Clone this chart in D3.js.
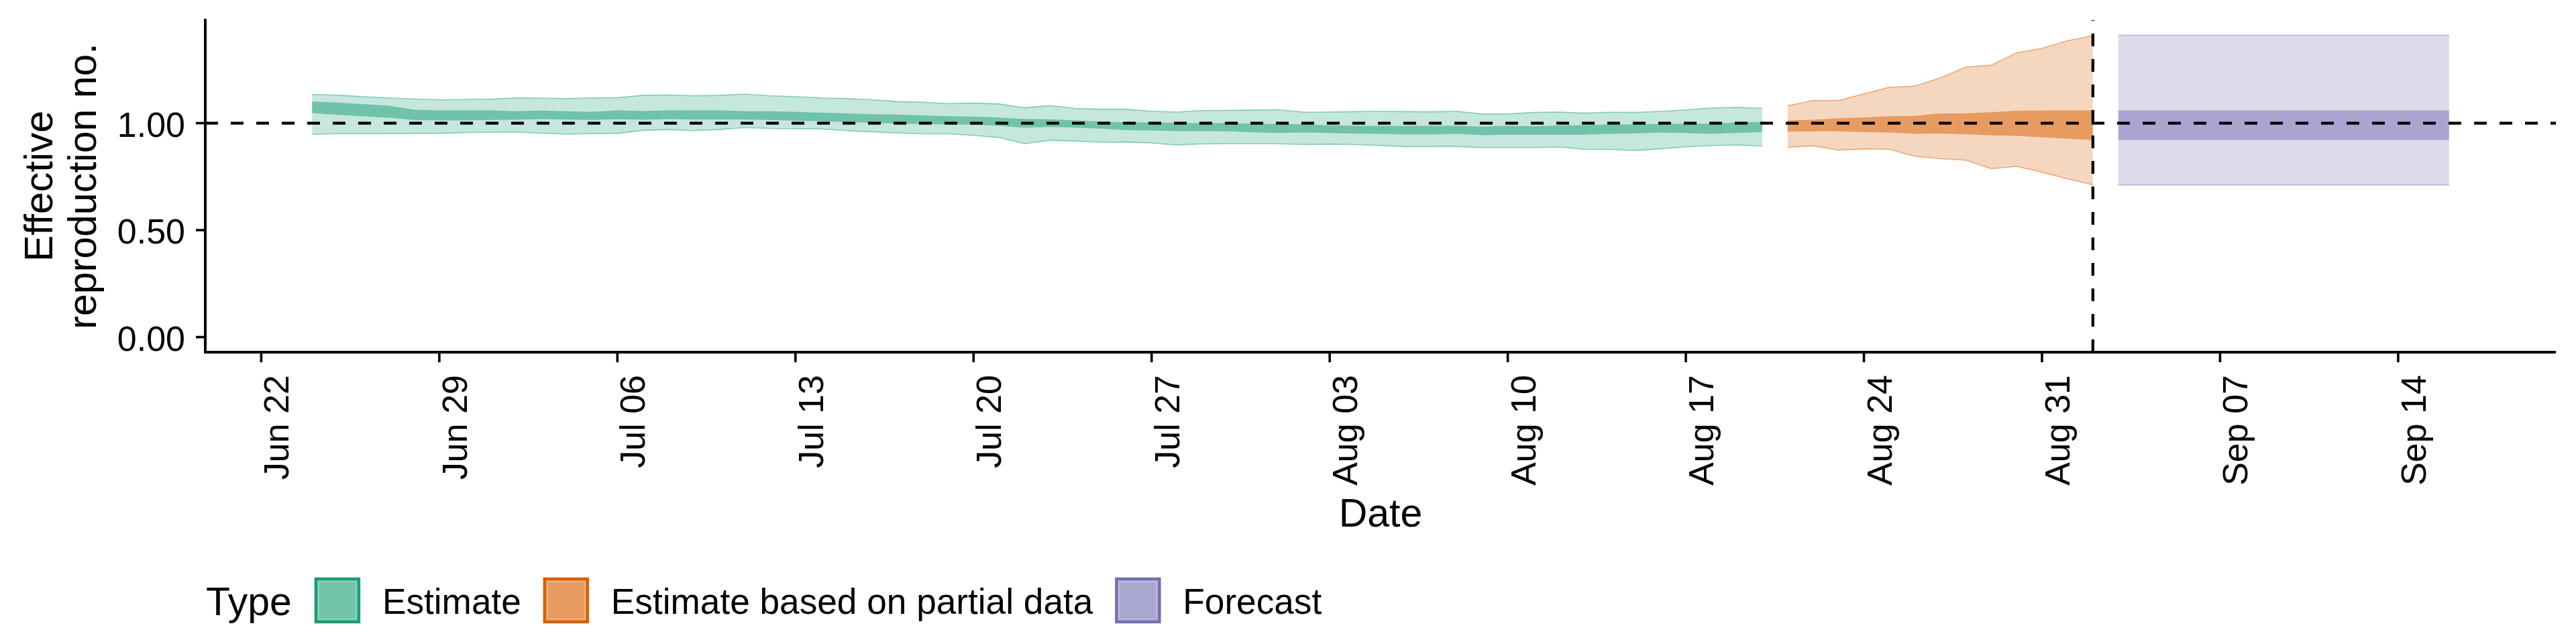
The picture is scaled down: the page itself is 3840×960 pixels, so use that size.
<!DOCTYPE html>
<html>
<head>
<meta charset="utf-8">
<script src="https://cdn.jsdelivr.net/npm/d3@7"></script>
<style>
  html, body { margin: 0; padding: 0; background: #fff; }
  svg { display: block; }
  text { font-family: "Liberation Sans", Arial, Helvetica, sans-serif; fill: #000; }
</style>
</head>
<body>
<svg id="chart" width="3840" height="960"></svg>
<script>
// ---- data ----
const types = ['Estimate', 'Estimate based on partial data', 'Forecast'];
const typeColours = ['#1b9e77', '#d95f02', '#7570b3'];
const startDates = ['2020-06-24', '2020-08-21', '2020-09-03'];

const estimateUpper90 = [
  1.134, 1.131, 1.124, 1.118, 1.113, 1.109, 1.111, 1.112, 1.118, 1.117,
  1.115, 1.118, 1.119, 1.130, 1.132, 1.128, 1.130, 1.136, 1.128, 1.124,
  1.118, 1.115, 1.110, 1.101, 1.098, 1.091, 1.094, 1.090, 1.072, 1.082,
  1.069, 1.065, 1.065, 1.056, 1.052, 1.059, 1.060, 1.061, 1.063, 1.051,
  1.052, 1.054, 1.055, 1.054, 1.053, 1.055, 1.043, 1.043, 1.050, 1.052,
  1.047, 1.051, 1.050, 1.055, 1.062, 1.071, 1.074, 1.070
];
const estimateUpper50 = [
  1.101, 1.096, 1.089, 1.082, 1.063, 1.060, 1.060, 1.060, 1.056, 1.059,
  1.056, 1.053, 1.060, 1.057, 1.060, 1.060, 1.060, 1.056, 1.056, 1.053,
  1.049, 1.046, 1.042, 1.040, 1.036, 1.032, 1.031, 1.026, 1.020, 1.018,
  1.013, 1.007, 1.004, 1.003, 1.001, 1.000, 1.000, 0.997, 0.996, 0.994,
  0.990, 0.988, 0.988, 0.987, 0.988, 0.988, 0.984, 0.988, 0.985, 0.989,
  0.991, 0.994, 0.994, 0.996, 0.997, 0.997, 1.003, 1.006
];
const estimateLower50 = [
  1.047, 1.039, 1.032, 1.025, 1.015, 1.013, 1.013, 1.015, 1.016, 1.019,
  1.017, 1.015, 1.018, 1.016, 1.019, 1.017, 1.017, 1.017, 1.015, 1.011,
  1.009, 1.005, 1.002, 0.998, 0.996, 0.994, 0.993, 0.988, 0.979, 0.982,
  0.979, 0.974, 0.967, 0.966, 0.963, 0.963, 0.962, 0.957, 0.954, 0.956,
  0.954, 0.951, 0.950, 0.947, 0.947, 0.950, 0.944, 0.946, 0.946, 0.946,
  0.946, 0.950, 0.952, 0.956, 0.954, 0.950, 0.954, 0.959
];
const estimateLower90 = [
  0.948, 0.951, 0.951, 0.951, 0.952, 0.952, 0.956, 0.957, 0.958, 0.953,
  0.949, 0.951, 0.952, 0.966, 0.970, 0.965, 0.970, 0.979, 0.975, 0.974,
  0.973, 0.965, 0.960, 0.954, 0.950, 0.950, 0.943, 0.933, 0.904, 0.920,
  0.916, 0.911, 0.912, 0.907, 0.898, 0.903, 0.904, 0.904, 0.904, 0.900,
  0.902, 0.900, 0.895, 0.890, 0.891, 0.891, 0.886, 0.886, 0.886, 0.888,
  0.878, 0.877, 0.872, 0.880, 0.889, 0.895, 0.898, 0.893
];

const partialUpper90 = [1.081, 1.106, 1.106, 1.137, 1.168, 1.173, 1.212, 1.262, 1.271, 1.329, 1.350, 1.385, 1.409];
const partialUpper50 = [1.013, 1.016, 1.023, 1.027, 1.032, 1.034, 1.046, 1.046, 1.051, 1.058, 1.059, 1.060, 1.060];
const partialLower50 = [0.960, 0.962, 0.962, 0.958, 0.956, 0.950, 0.952, 0.948, 0.943, 0.941, 0.934, 0.927, 0.922];
const partialLower90 = [0.887, 0.894, 0.874, 0.879, 0.878, 0.845, 0.834, 0.827, 0.787, 0.798, 0.771, 0.740, 0.712];

const forecastUpper90 = [1.411, 1.411, 1.411, 1.411, 1.411, 1.411, 1.411, 1.411, 1.411, 1.411, 1.411, 1.411, 1.411, 1.411];
const forecastUpper50 = [1.060, 1.060, 1.060, 1.060, 1.060, 1.060, 1.060, 1.060, 1.060, 1.060, 1.060, 1.060, 1.060, 1.060];
const forecastLower50 = [0.922, 0.922, 0.922, 0.922, 0.922, 0.922, 0.922, 0.922, 0.922, 0.922, 0.922, 0.922, 0.922, 0.922];
const forecastLower90 = [0.711, 0.711, 0.711, 0.711, 0.711, 0.711, 0.711, 0.711, 0.711, 0.711, 0.711, 0.711, 0.711, 0.711];

const tickDates = ['2020-06-22', '2020-06-29', '2020-07-06', '2020-07-13', '2020-07-20', '2020-07-27',
  '2020-08-03', '2020-08-10', '2020-08-17', '2020-08-24', '2020-08-31', '2020-09-07', '2020-09-14'];
const yTicks = [0, 0.5, 1];
const referenceR = 1;
const lastDataDate = '2020-09-02';

// ---- build rows per type ----
const bands = [
  [estimateLower90, estimateLower50, estimateUpper50, estimateUpper90],
  [partialLower90, partialLower50, partialUpper50, partialUpper90],
  [forecastLower90, forecastLower50, forecastUpper50, forecastUpper90]
];
const series = types.map((type, i) => {
  const start = new Date(startDates[i]);
  const [lo90, lo50, up50, up90] = bands[i];
  return {
    type: type,
    colour: typeColours[i],
    rows: up90.map((v, k) => ({
      date: d3.utcDay.offset(start, k),
      lower90: lo90[k], lower50: lo50[k], upper50: up50[k], upper90: v
    }))
  };
});

// ---- layout ----
const svg = d3.select('#chart');
const panelLeft = 306, panelRight = 3810, panelTop = 30, panelBottom = 525;

const allRows = series.flatMap(s => s.rows);
const [minDate, maxDate] = d3.extent(allRows, d => d.date);
const pad = (maxDate - minDate) * 0.05;
const x = d3.scaleUtc()
  .domain([new Date(+minDate - pad), new Date(+maxDate + pad)])
  .range([panelLeft, panelRight]);

const yMax = d3.max(allRows, d => d.upper90);
const y = d3.scaleLinear()
  .domain([-0.05 * yMax, yMax * 1.05])
  .range([panelBottom, panelTop]);

// ---- ribbons ----
const area90 = d3.area().x(d => x(d.date)).y0(d => y(d.lower90)).y1(d => y(d.upper90));
const area50 = d3.area().x(d => x(d.date)).y0(d => y(d.lower50)).y1(d => y(d.upper50));
const upperLine = d3.line().x(d => x(d.date)).y(d => y(d.upper90));
const lowerLine = d3.line().x(d => x(d.date)).y(d => y(d.lower90));

const ribbons = svg.append('g').selectAll('g')
  .data(series)
  .enter()
  .append('g');

ribbons.append('path')
  .attr('d', s => area90(s.rows))
  .attr('fill', s => s.colour)
  .attr('fill-opacity', 0.25);

ribbons.append('path')
  .attr('d', s => upperLine(s.rows))
  .attr('fill', 'none')
  .attr('stroke', s => s.colour)
  .attr('stroke-opacity', 0.45)
  .attr('stroke-width', 1.6);

ribbons.append('path')
  .attr('d', s => lowerLine(s.rows))
  .attr('fill', 'none')
  .attr('stroke', s => s.colour)
  .attr('stroke-opacity', 0.45)
  .attr('stroke-width', 1.6);

ribbons.append('path')
  .attr('d', s => area50(s.rows))
  .attr('fill', s => s.colour)
  .attr('fill-opacity', 0.5);

// ---- reference lines ----
svg.append('line')
  .attr('x1', panelLeft).attr('x2', panelRight)
  .attr('y1', y(referenceR)).attr('y2', y(referenceR))
  .attr('stroke', '#000')
  .attr('stroke-width', 4.3)
  .attr('stroke-dasharray', '19,19');

svg.append('line')
  .attr('x1', x(new Date(lastDataDate))).attr('x2', x(new Date(lastDataDate)))
  .attr('y1', panelBottom).attr('y2', panelTop)
  .attr('stroke', '#000')
  .attr('stroke-width', 4.3)
  .attr('stroke-dasharray', '19,19');

// ---- axes ----
const axisG = svg.append('g');

axisG.append('line')
  .attr('x1', panelLeft).attr('x2', panelLeft)
  .attr('y1', panelTop - 2).attr('y2', panelBottom + 2)
  .attr('stroke', '#000').attr('stroke-width', 4);

axisG.append('line')
  .attr('x1', panelLeft - 2).attr('x2', panelRight)
  .attr('y1', panelBottom).attr('y2', panelBottom)
  .attr('stroke', '#000').attr('stroke-width', 4);

const yTickG = axisG.selectAll('.ytick')
  .data(yTicks)
  .enter()
  .append('g')
  .attr('class', 'ytick');

yTickG.append('line')
  .attr('x1', panelLeft - 14).attr('x2', panelLeft)
  .attr('y1', d => y(d)).attr('y2', d => y(d))
  .attr('stroke', '#000').attr('stroke-width', 3.6);

yTickG.append('text')
  .attr('x', panelLeft - 30)
  .attr('y', d => y(d))
  .attr('dy', '0.39em')
  .attr('text-anchor', 'end')
  .attr('font-size', 52)
  .text(d3.format('.2f'));

const xTickG = axisG.selectAll('.xtick')
  .data(tickDates.map(t => new Date(t)))
  .enter()
  .append('g')
  .attr('class', 'xtick');

xTickG.append('line')
  .attr('x1', d => x(d)).attr('x2', d => x(d))
  .attr('y1', panelBottom).attr('y2', panelBottom + 15)
  .attr('stroke', '#000').attr('stroke-width', 3.6);

xTickG.append('text')
  .attr('transform', d => `translate(${x(d) + 41},559) rotate(-90)`)
  .attr('text-anchor', 'end')
  .attr('font-size', 52)
  .text(d3.utcFormat('%b %d'));

// ---- axis titles ----
svg.append('text')
  .attr('x', (panelLeft + panelRight) / 2)
  .attr('y', 785)
  .attr('text-anchor', 'middle')
  .attr('font-size', 59)
  .text('Date');

const yTitle = ['Effective', 'reproduction no.'];
svg.selectAll('.ytitle')
  .data(yTitle)
  .enter()
  .append('text')
  .attr('class', 'ytitle')
  .attr('transform', (d, i) => `translate(${78 + i * 65},${(panelTop + panelBottom) / 2}) rotate(-90)`)
  .attr('text-anchor', 'middle')
  .attr('font-size', 59)
  .text(d => d);

// ---- legend ----
const legend = svg.append('g');
const legendTitle = legend.append('text')
  .attr('x', 307)
  .attr('y', 917)
  .attr('font-size', 59)
  .text('Type');

let cursor = 307 + legendTitle.node().getComputedTextLength() + 34;
series.forEach(s => {
  legend.append('rect')
    .attr('x', cursor + 2).attr('y', 863)
    .attr('width', 64).attr('height', 64)
    .attr('fill', s.colour).attr('fill-opacity', 0.625)
    .attr('stroke', s.colour).attr('stroke-width', 4.5);
  legend.append('rect')
    .attr('x', cursor + 6).attr('y', 867)
    .attr('width', 56).attr('height', 56)
    .attr('fill', 'none')
    .attr('stroke', '#fff').attr('stroke-opacity', 0.3).attr('stroke-width', 1.5);
  const label = legend.append('text')
    .attr('x', cursor + 101)
    .attr('y', 915)
    .attr('font-size', 53.2)
    .text(s.type);
  cursor += 101 + label.node().getComputedTextLength() + 33;
});
</script>
</body>
</html>
